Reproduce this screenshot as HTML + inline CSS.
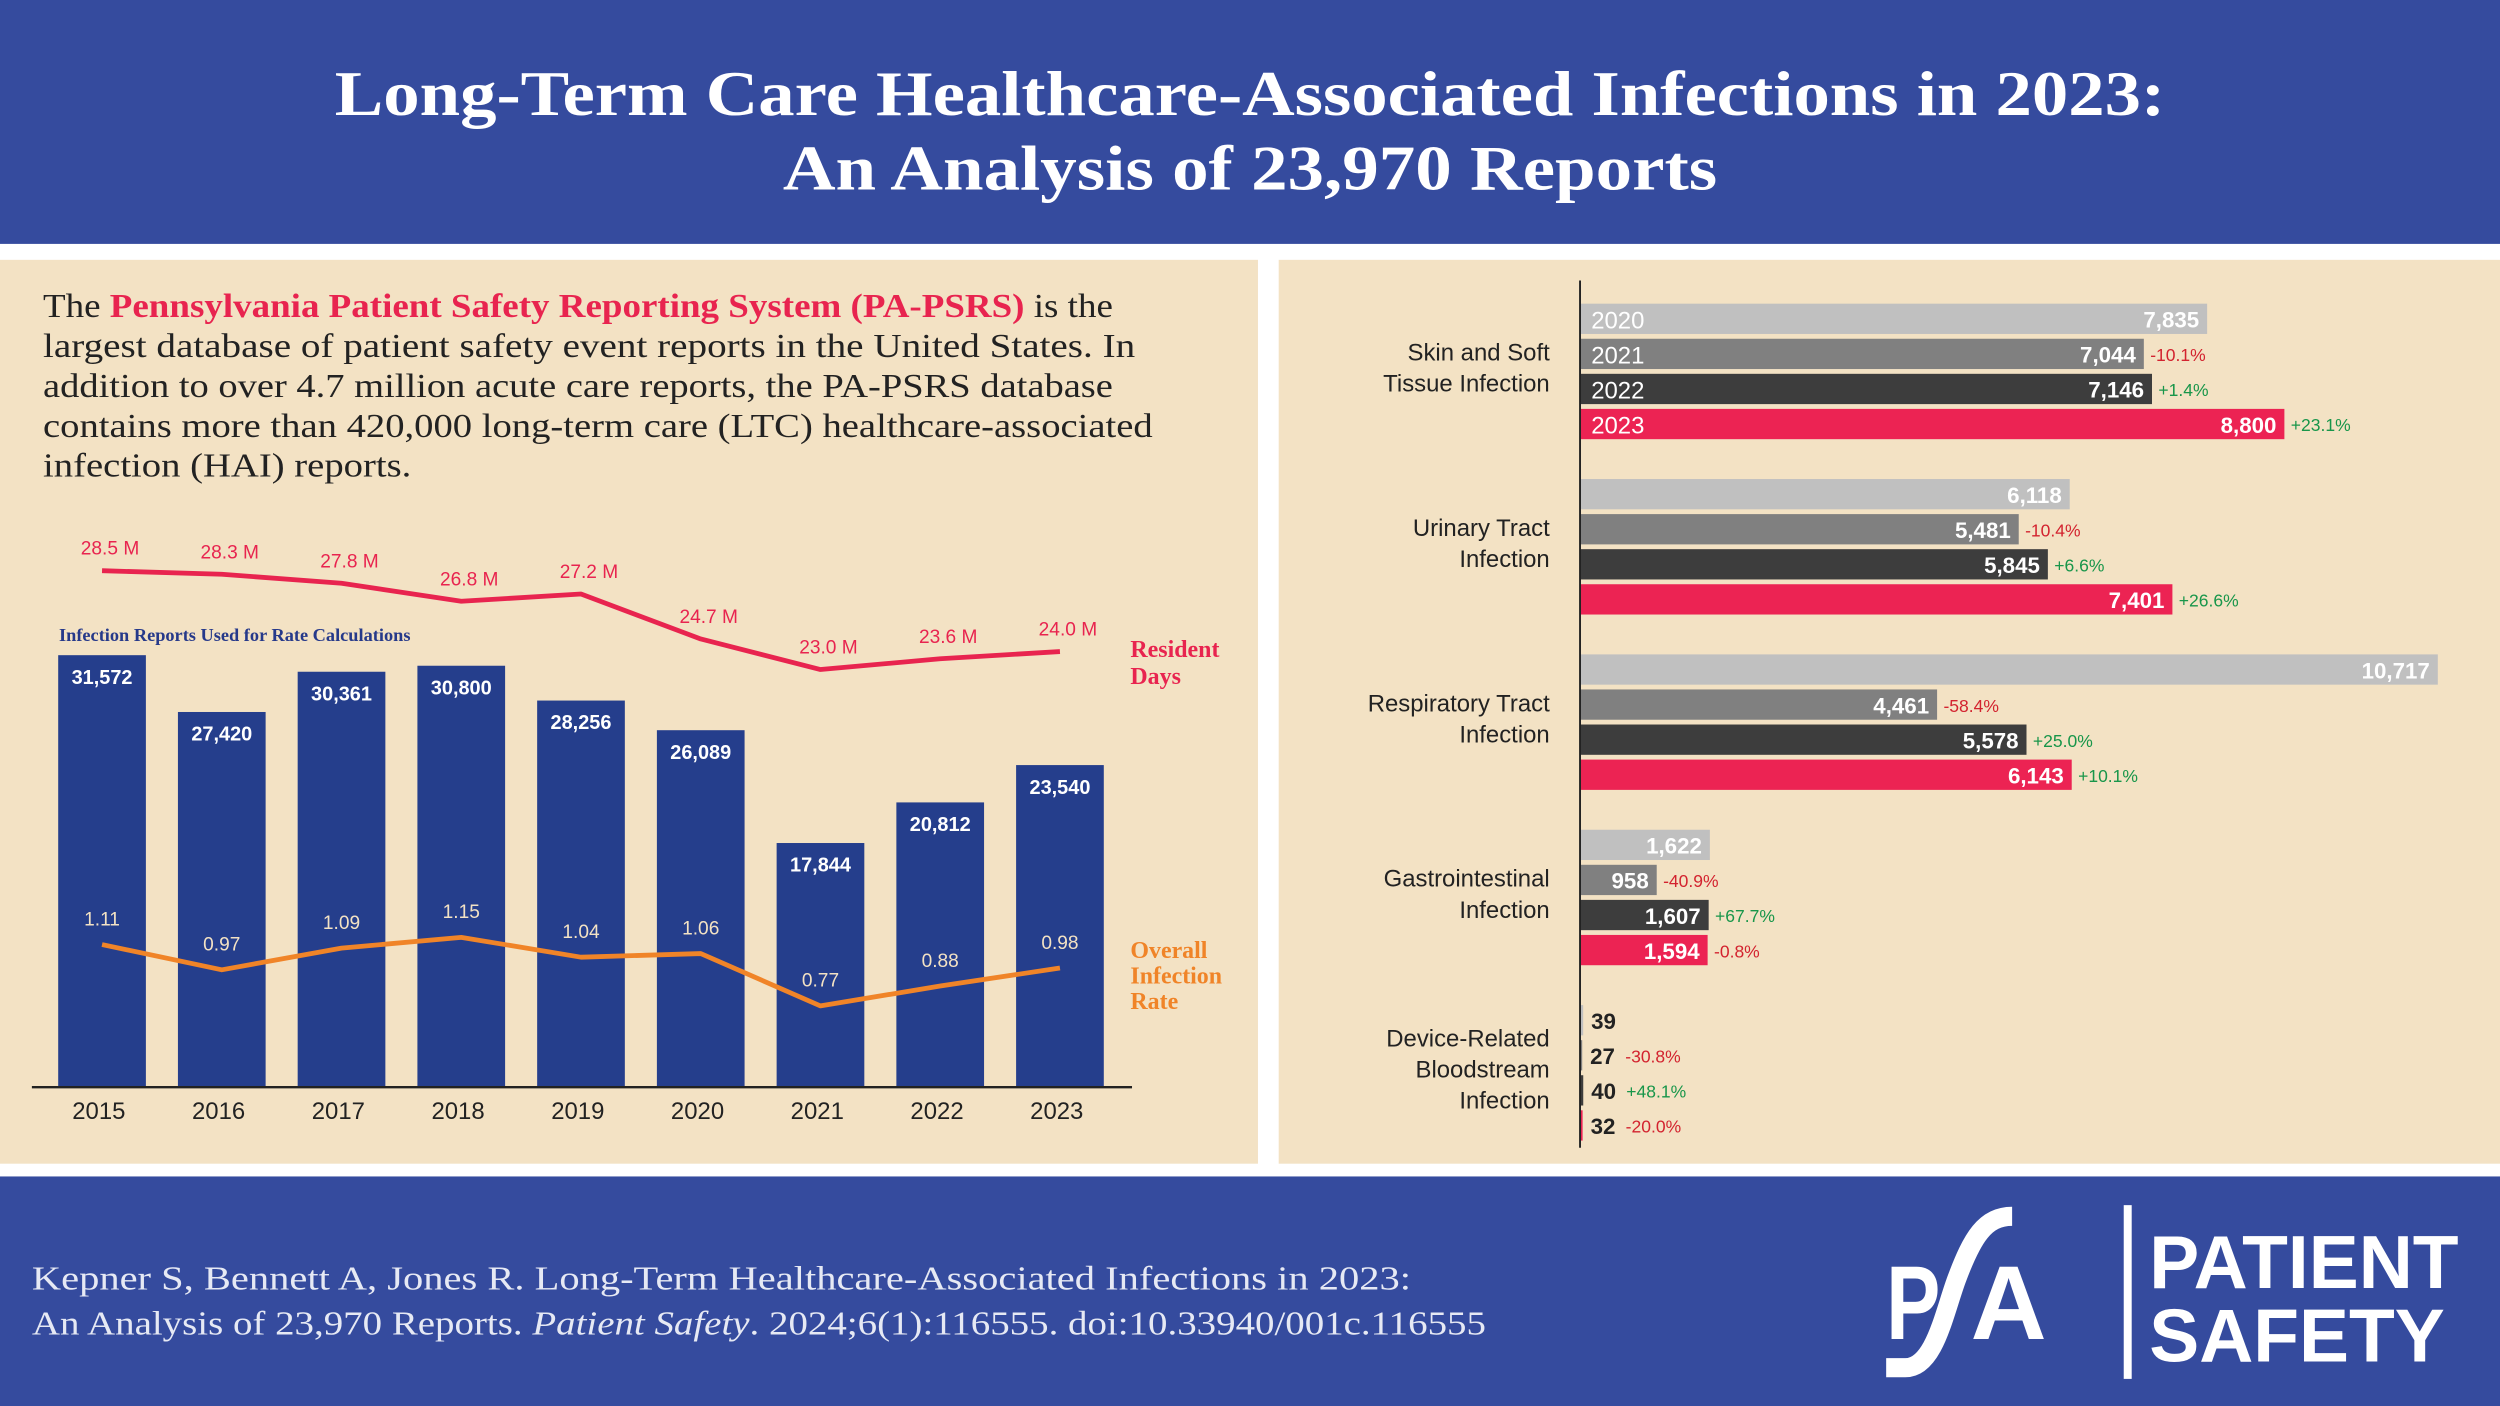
<!DOCTYPE html>
<html><head><meta charset="utf-8"><style>
html,body{margin:0;padding:0;background:#fff;overflow:hidden}
svg{display:block}
.serif{font-family:"Liberation Serif",serif}
.sans{font-family:"Liberation Sans",sans-serif}
</style></head><body>
<svg id="root" width="2500" height="1406" viewBox="0 0 1568 882" preserveAspectRatio="none" xmlns="http://www.w3.org/2000/svg">
<rect x="0" y="0" width="1568" height="882" fill="#ffffff"/>
<rect x="0" y="0" width="1568" height="153" fill="#354b9e"/>
<text x="210" y="72" textLength="1148" lengthAdjust="spacingAndGlyphs" class="serif" font-weight="bold" font-size="40" fill="#fff">Long-Term Care Healthcare-Associated Infections in 2023:</text>
<text x="491" y="119" textLength="586" lengthAdjust="spacingAndGlyphs" class="serif" font-weight="bold" font-size="40" fill="#fff">An Analysis of 23,970 Reports</text>
<rect x="0" y="163" width="789" height="567" fill="#f3e2c4"/>
<rect x="802" y="163" width="766" height="567" fill="#f3e2c4"/>
<rect x="0" y="738" width="1568" height="144" fill="#354b9e"/>
<g class="serif" font-size="21" fill="#222">
<text x="27" y="199" textLength="671" lengthAdjust="spacingAndGlyphs">The <tspan fill="#e8244f" font-weight="bold">Pennsylvania Patient Safety Reporting System (PA-PSRS)</tspan> is the</text>
<text x="27" y="224" textLength="685" lengthAdjust="spacingAndGlyphs">largest database of patient safety event reports in the United States. In</text>
<text x="27" y="249" textLength="671" lengthAdjust="spacingAndGlyphs">addition to over 4.7 million acute care reports, the PA-PSRS database</text>
<text x="27" y="274" textLength="696" lengthAdjust="spacingAndGlyphs">contains more than 420,000 long-term care (LTC) healthcare-associated</text>
<text x="27" y="299" textLength="231" lengthAdjust="spacingAndGlyphs">infection (HAI) reports.</text>
</g>
<g id="left-chart"></g>
<g id="right-chart"></g>
<g class="serif" font-size="21" fill="#e6e9f4">
<text x="20" y="809" textLength="865" lengthAdjust="spacingAndGlyphs">Kepner S, Bennett A, Jones R. Long-Term Healthcare-Associated Infections in 2023:</text>
<text x="20" y="837" textLength="912" lengthAdjust="spacingAndGlyphs">An Analysis of 23,970 Reports. <tspan font-style="italic">Patient Safety</tspan>. 2024;6(1):116555. doi:10.33940/001c.116555</text>
</g>
<g fill="#fff">
<text x="1183" y="840" class="sans" font-weight="bold" font-size="66" textLength="34" lengthAdjust="spacingAndGlyphs">P</text>
<path d="M1183,858 L1195,858 C1213,858 1219,825 1227,803 C1237,776 1245,763 1262,763" stroke="#fff" stroke-width="12" fill="none"/>
<text x="1236" y="840" class="sans" font-weight="bold" font-size="66">A</text>
<rect x="1332" y="756" width="5" height="109"/>
<text x="1348" y="808" class="sans" font-weight="bold" font-size="47">PATIENT</text>
<text x="1348" y="854" class="sans" font-weight="bold" font-size="47">SAFETY</text>
</g>
</svg>
<script>
const NS='http://www.w3.org/2000/svg';
const years=['2015','2016','2017','2018','2019','2020','2021','2022','2023'];
const reports=[31572,27420,30361,30800,28256,26089,17844,20812,23540];
const residentDays=[28.5,28.3,27.8,26.8,27.2,24.7,23.0,23.6,24.0];
const infectionRate=[1.11,0.97,1.09,1.15,1.04,1.06,0.77,0.88,0.98];
const categories=['Skin and Soft|Tissue Infection','Urinary Tract|Infection','Respiratory Tract|Infection','Gastrointestinal|Infection','Device-Related|Bloodstream|Infection'];
const seriesYears=['2020','2021','2022','2023'];
const v2020=[7835,6118,10717,1622,39];
const v2021=[7044,5481,4461,958,27];
const v2022=[7146,5845,5578,1607,40];
const v2023=[8800,7401,6143,1594,32];
const ch2021=['-10.1%','-10.4%','-58.4%','-40.9%','-30.8%'];
const ch2022=['+1.4%','+6.6%','+25.0%','+67.7%','+48.1%'];
const ch2023=['+23.1%','+26.6%','+10.1%','-0.8%','-20.0%'];

function mk(parent,tag,attrs,text){const e=document.createElementNS(NS,tag);for(const k in attrs)e.setAttribute(k,attrs[k]);if(text!==undefined)e.textContent=text;parent.appendChild(e);return e;}
const fmt=n=>n.toLocaleString('en-US');

// left chart
const L=document.getElementById('left-chart');
const xC=i=>64+i*75.1;
const yBar=v=>682-v*(271/31572);
const yRD=v=>358-(v-28.5)*(62/5.5);
const yIR=v=>588-(v-1.15)*(43/0.38);
let t=mk(L,'text',{x:37,y:402,'font-size':11.5,'font-weight':'bold',fill:'#26398a',class:'serif'},'Infection Reports Used for Rate Calculations');


reports.forEach((v,i)=>{
  const r=mk(L,'rect',{x:xC(i)-27.5,y:yBar(v),width:55,height:682-yBar(v),fill:'#253e8c'});
  
  
  const l=mk(L,'text',{x:xC(i),y:yBar(v)+18,'text-anchor':'middle','font-size':12.5,'font-weight':'bold',fill:'#fff',class:'sans'},fmt(v));
  
  
  const yl=mk(L,'text',{x:xC(i)-2,y:702,'text-anchor':'middle','font-size':15,fill:'#222',class:'sans'},years[i]);
  
  
});
const ax=mk(L,'line',{x1:20,x2:710,y1:682,y2:682,stroke:'#222','stroke-width':1.5});


const rdPath=mk(L,'polyline',{points:residentDays.map((v,i)=>xC(i)+','+yRD(v)).join(' '),fill:'none',stroke:'#e8244f','stroke-width':3,'stroke-linejoin':'round'});


residentDays.forEach((v,i)=>{
  const l=mk(L,'text',{x:xC(i)+5,y:yRD(v)-10,'text-anchor':'middle','font-size':12,fill:'#e8244f',class:'sans'},v.toFixed(1)+' M');
  
  
});
const irPath=mk(L,'polyline',{points:infectionRate.map((v,i)=>xC(i)+','+yIR(v)).join(' '),fill:'none',stroke:'#f08428','stroke-width':3,'stroke-linejoin':'round'});


infectionRate.forEach((v,i)=>{
  const l=mk(L,'text',{x:xC(i),y:yIR(v)-12,'text-anchor':'middle','font-size':12,fill:'#f3e2c4',class:'sans'},v.toFixed(2));
  
  
});
const rdT=mk(L,'text',{x:709,y:412,'font-size':15,'font-weight':'bold',fill:'#e8244f',class:'serif'});


mk(rdT,'tspan',{x:709,y:412},'Resident');mk(rdT,'tspan',{x:709,y:429},'Days');
const irT=mk(L,'text',{x:709,y:601,'font-size':15,'font-weight':'bold',fill:'#f08428',class:'serif'});


mk(irT,'tspan',{x:709,y:601},'Overall');mk(irT,'tspan',{x:709,y:617},'Infection');mk(irT,'tspan',{x:709,y:633},'Rate');

// right chart
const R=document.getElementById('right-chart');
const x0=991, xS=v=>v*(538/10717);
const colors=['#c0c0c0','#808080','#3d3d3d','#ec2353'];
const series=[v2020,v2021,v2022,v2023];
const changes=[null,ch2021,ch2022,ch2023];
categories.forEach((c,ci)=>{
  const gy=200+ci*110;
  const lines=c.split('|');
  const startY=gy+36-(lines.length-1)*19.5/2;
  lines.forEach((ln,li)=>{
    const tl=mk(R,'text',{x:972,y:startY+li*19.5,'text-anchor':'end','font-size':15,fill:'#222',class:'sans'},ln);
    
    
  });
  series.forEach((s,si)=>{
    const cy=gy+si*22;
    const w=xS(s[ci]);
    const b=mk(R,'rect',{x:x0,y:cy-9.5,width:Math.max(w,1),height:19,fill:colors[si]});
    
    
    if(ci===0){
      const yl=mk(R,'text',{x:x0+7,y:cy+6,'font-size':15,fill:'#fff',class:'sans'},seriesYears[si]);
      
      
    }
    let endX;
    if(w>40){
      const vl=mk(R,'text',{x:x0+w-5,y:cy+5.5,'text-anchor':'end','font-size':14,'font-weight':'bold',fill:'#fff',class:'sans'},fmt(s[ci]));
      
      
      endX=x0+w+4;
    } else {
      const vl=mk(R,'text',{x:x0+w+5,y:cy+5.5,'font-size':14,'font-weight':'bold',fill:'#222',class:'sans'},fmt(s[ci]));
      
      
      endX=x0+w+27;
    }
    if(changes[si]){
      const ch=changes[si][ci];
      const cl=mk(R,'text',{x:endX,y:cy+4.5,'font-size':11,fill:ch[0]==='+'?'#18964a':'#d3232f',class:'sans'},ch);
      
      
    }
  });
});
const yax=mk(R,'line',{x1:x0,x2:x0,y1:176,y2:720,stroke:'#222','stroke-width':1.2});


</script>
</body></html>
